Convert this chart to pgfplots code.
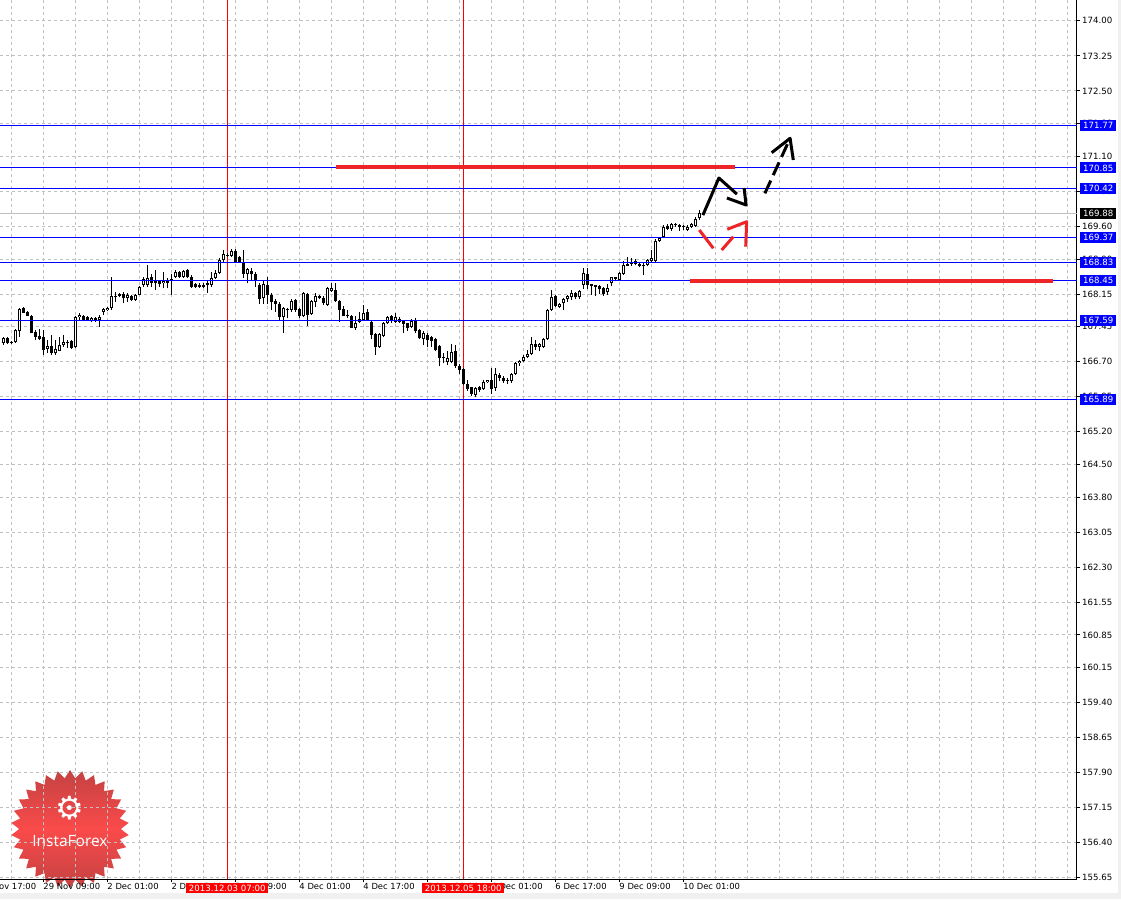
\documentclass[border=0pt]{standalone}
\usepackage{pgfplots}
\pgfplotsset{compat=1.18}
\usepackage{pgfplotstable}
\usepackage{fontspec}
\setmainfont{DejaVu Sans}
\newfontfamily\logofont{Open Sans}
\usetikzlibrary{shapes.geometric}
\definecolor{gridc}{RGB}{192,192,192}
\definecolor{lvlblue}{RGB}{0,0,255}
\definecolor{drawred}{RGB}{238,36,40}
\definecolor{logotop}{RGB}{196,66,66}
\definecolor{logomid}{RGB}{250,74,74}
\definecolor{chrome}{RGB}{240,240,240}
\definecolor{pricegray}{RGB}{190,190,190}

\pgfplotstableread{
x o h l c
0 167.10 167.24 167.06 167.20
1 167.20 167.24 167.08 167.10
2 167.13 167.15 167.07 167.10
3 167.13 167.40 167.10 167.37
4 167.35 167.85 167.24 167.83
5 167.85 167.88 167.74 167.75
6 167.77 167.79 167.67 167.69
7 167.68 167.70 167.31 167.32
8 167.34 167.38 167.17 167.24
9 167.25 167.40 167.17 167.18
10 167.24 167.37 166.85 166.95
11 166.98 167.17 166.88 167.04
12 167.04 167.27 166.85 166.88
13 166.88 167.17 166.85 166.97
14 166.94 167.24 166.92 167.05
15 167.05 167.27 167.02 167.12
16 167.13 167.17 166.99 167.10
17 167.15 167.17 166.97 166.99
18 167.01 167.68 166.99 167.65
19 167.65 167.75 167.60 167.70
20 167.68 167.70 167.58 167.60
21 167.65 167.67 167.57 167.60
22 167.58 167.66 167.55 167.63
23 167.63 167.65 167.56 167.60
24 167.60 167.70 167.44 167.65
25 167.77 167.85 167.70 167.82
26 167.80 167.87 167.78 167.85
27 167.85 168.52 167.81 168.11
28 168.11 168.20 167.99 168.08
29 168.11 168.18 168.08 168.15
30 168.15 168.20 167.95 168.06
31 168.06 168.17 167.99 168.13
32 168.11 168.14 168.00 168.02
33 168.02 168.16 168.00 168.13
34 168.13 168.32 168.12 168.31
35 168.34 168.52 168.31 168.47
36 168.34 168.77 168.31 168.49
37 168.51 168.59 168.31 168.39
38 168.42 168.67 168.24 168.38
39 168.42 168.45 168.31 168.36
40 168.38 168.63 168.27 168.44
41 168.42 168.49 168.27 168.38
42 168.44 168.59 168.13 168.47
43 168.51 168.67 168.49 168.62
44 168.62 168.65 168.50 168.52
45 168.52 168.67 168.50 168.64
46 168.67 168.69 168.49 168.51
47 168.52 168.55 168.29 168.31
48 168.36 168.38 168.29 168.31
49 168.31 168.38 168.29 168.35
50 168.35 168.38 168.28 168.31
51 168.34 168.45 168.18 168.38
52 168.34 168.63 168.31 168.49
53 168.49 168.67 168.47 168.61
54 168.61 168.92 168.59 168.87
55 168.87 169.09 168.84 169.00
56 168.97 169.02 168.95 168.99
57 168.97 169.11 168.95 169.07
58 169.07 169.11 168.82 168.84
59 168.95 168.97 168.82 168.84
60 168.84 169.10 168.49 168.59
61 168.59 168.70 168.38 168.68
62 168.65 168.70 168.45 168.57
63 168.59 168.63 168.31 168.44
64 168.34 168.39 167.94 168.04
65 168.06 168.42 167.94 168.36
66 168.34 168.51 167.94 168.13
67 168.13 168.17 167.81 167.97
68 168.00 168.04 167.77 167.93
69 167.93 167.99 167.57 167.65
70 167.65 167.88 167.31 167.85
71 167.83 167.85 167.63 167.80
72 167.81 168.04 167.77 168.00
73 168.02 168.05 167.77 167.81
74 167.82 167.85 167.63 167.68
75 167.67 168.20 167.65 168.18
76 168.15 168.18 167.47 167.70
77 167.72 168.02 167.70 168.00
78 167.99 168.17 167.88 168.11
79 168.11 168.13 168.04 168.06
80 168.07 168.10 167.92 167.95
81 167.92 168.31 167.90 168.29
82 168.22 168.38 168.20 168.27
83 168.24 168.38 167.99 168.00
84 168.00 168.02 167.56 167.81
85 167.84 167.89 167.67 167.68
86 167.70 167.81 167.63 167.67
87 167.68 167.70 167.42 167.43
88 167.42 167.67 167.38 167.54
89 167.55 167.77 167.52 167.62
90 167.60 167.92 167.58 167.75
91 167.77 167.84 167.57 167.60
92 167.55 167.57 167.18 167.27
93 167.30 167.31 166.85 167.01
94 167.01 167.31 166.99 167.29
95 167.26 167.56 167.24 167.52
96 167.52 167.68 167.50 167.65
97 167.67 167.70 167.54 167.60
98 167.56 167.74 167.54 167.65
99 167.62 167.65 167.52 167.56
100 167.57 167.60 167.31 167.51
101 167.52 167.54 167.35 167.42
102 167.44 167.61 167.42 167.57
103 167.60 167.64 167.32 167.35
104 167.37 167.40 167.18 167.20
105 167.19 167.35 167.06 167.31
106 167.27 167.31 167.01 167.17
107 167.24 167.25 167.02 167.15
108 167.18 167.20 166.92 166.95
109 167.04 167.06 166.60 166.77
110 166.80 166.88 166.67 166.77
111 166.69 166.92 166.63 166.77
112 166.70 167.08 166.67 166.90
113 166.93 167.06 166.56 166.60
114 166.61 166.65 166.43 166.52
115 166.55 166.56 166.20 166.23
116 166.23 166.32 166.08 166.12
117 166.15 166.17 165.97 166.01
118 165.99 166.17 165.94 166.13
119 166.15 166.18 166.06 166.10
120 166.11 166.30 166.10 166.26
121 166.26 166.32 166.24 166.31
122 166.31 166.56 166.01 166.11
123 166.13 166.56 166.08 166.43
124 166.42 166.45 166.28 166.35
125 166.36 166.40 166.25 166.28
126 166.31 166.35 166.22 166.28
127 166.28 166.45 166.25 166.44
128 166.44 166.70 166.42 166.68
129 166.67 166.74 166.60 166.72
130 166.72 166.84 166.70 166.81
131 166.81 166.95 166.78 166.87
132 166.87 167.22 166.85 167.08
133 167.08 167.17 166.95 167.02
134 167.02 167.10 166.92 167.08
135 167.02 167.20 166.99 167.18
136 167.18 167.82 167.17 167.81
137 167.81 168.24 167.79 168.08
138 168.10 168.13 167.87 167.90
139 167.88 167.96 167.86 167.94
140 167.95 168.06 167.80 168.04
141 168.04 168.13 167.99 168.11
142 168.08 168.24 168.02 168.17
143 168.18 168.20 168.04 168.08
144 168.08 168.24 168.04 168.22
145 168.35 168.70 168.25 168.60
146 168.58 168.70 168.25 168.35
147 168.36 168.37 168.13 168.32
148 168.34 168.35 168.11 168.31
149 168.32 168.35 168.15 168.25
150 168.29 168.31 168.11 168.15
151 168.20 168.37 168.13 168.27
152 168.38 168.52 168.32 168.51
153 168.48 168.52 168.45 168.51
154 168.45 168.63 168.44 168.61
155 168.58 168.85 168.56 168.77
156 168.79 168.95 168.74 168.76
157 168.83 168.92 168.74 168.79
158 168.85 168.89 168.77 168.80
159 168.79 168.81 168.72 168.76
160 168.77 168.81 168.56 168.75
161 168.77 168.89 168.74 168.87
162 168.85 169.09 168.82 168.92
163 168.85 169.32 168.82 169.29
164 169.29 169.38 169.27 169.34
165 169.38 169.63 169.34 169.59
166 169.61 169.65 169.52 169.54
167 169.54 169.67 169.51 169.65
168 169.65 169.68 169.59 169.62
169 169.62 169.65 169.51 169.59
170 169.61 169.63 169.52 169.58
171 169.52 169.63 169.50 169.59
172 169.58 169.68 169.56 169.65
173 169.61 169.79 169.59 169.76
174 169.77 169.94 169.74 169.88
}\candles

\tikzset{
  lvl/.style={anchor=west, xshift=3pt, fill=lvlblue, text=white, minimum width=36pt, minimum height=11pt, inner sep=0pt, font=\fontsize{8.6}{9}\selectfont},
  dlab/.style={anchor=north, yshift=-4pt, fill=red, text=white, inner xsep=2.5pt, inner ysep=1.5pt, font=\fontsize{8.6}{9}\selectfont}
}

\begin{document}
\begin{tikzpicture}
\useasboundingbox (0pt,-20pt) rectangle (1121pt,879pt);
\fill[chrome] (0pt,-20pt) rectangle (1121pt,879pt);
\fill[white] (0pt,-14pt) rectangle (1118pt,879pt);
\node[star, star points=30, star point ratio=1.16, minimum size=118pt, inner sep=0pt,
      top color=logotop, bottom color=logotop, middle color=logomid, draw=none] at (70pt,50pt) {};
\begin{axis}[
  at={(0pt,0pt)}, anchor=south west,
  scale only axis, width=1077pt, height=879pt,
  xmin=-0.825, xmax=268.425, ymin=155.624, ymax=174.447,
  axis x line=bottom, axis y line=right,
  axis line style={-, line width=1pt, black},
  clip mode=individual,
  xtick={10,26,42,58,74,90,106,122,138,154,170},
  xticklabels={29 Nov 09:00,2 Dec 01:00,2 Dec 17:00,3 Dec 09:00,4 Dec 01:00,4 Dec 17:00,5 Dec 09:00,6 Dec 01:00,6 Dec 17:00,9 Dec 09:00,10 Dec 01:00},
  minor xtick={2,18,34,50,66,82,98,114,130,146,162,178,186,194,202,210,218,226,234,242,250,258,266},
  ytick={174.00,173.25,172.50,171.80,171.10,170.35,169.60,168.90,168.15,167.45,166.70,165.95,165.20,164.50,163.80,163.05,162.30,161.55,160.85,160.15,159.40,158.65,157.90,157.15,156.40,155.65},
  yticklabels={174.00,173.25,172.50,171.80,171.10,170.35,169.60,168.90,168.15,167.45,166.70,165.95,165.20,164.50,163.80,163.05,162.30,161.55,160.85,160.15,159.40,158.65,157.90,157.15,156.40,155.65},
  tick align=outside, major tick length=3pt, minor tick length=0pt,
  tick style={black, line width=1pt},
  xmajorgrids=true, xminorgrids=true, ymajorgrids=true,
  major grid style={gridc, dash pattern=on 3pt off 3pt, line width=1pt},
  minor grid style={gridc, dash pattern=on 3pt off 3pt, line width=1pt},
  xticklabel style={anchor=north west, inner sep=0pt, xshift=0pt, yshift=-1pt, font=\fontsize{8.4}{9}\selectfont},
  yticklabel style={anchor=west, inner sep=0pt, xshift=2pt, font=\fontsize{8.6}{9}\selectfont},
]
% current price line
\addplot[pricegray, line width=1pt] coordinates {(-0.825,169.88) (268.425,169.88)};
% vertical marker lines
\addplot[red, line width=1pt] coordinates {(56,155.624) (56,174.447)};
\addplot[red, line width=1pt] coordinates {(115,155.624) (115,174.447)};
% candles: wicks
\addplot[draw=none, mark=none, error bars/.cd, y dir=plus, y explicit, error mark=none,
  error bar style={draw=black, line width=1pt, solid}]
  table[x=x, y=l, y error plus expr={\thisrow{h}-\thisrow{l}}] {\candles};
% bodies
\addplot[draw=none, mark=none, error bars/.cd, y dir=plus, y explicit, error mark=none,
  error bar style={draw=black, line width=3pt, solid}]
  table[x=x, y expr={min(\thisrow{o},\thisrow{c})}, y error plus expr={max(abs(\thisrow{c}-\thisrow{o}),0.022)}] {\candles};
\addplot[draw=none, mark=none, error bars/.cd, y dir=plus, y explicit, error mark=none,
  error bar style={draw=white, line width=1pt, solid}]
  table[x=x, y expr={\thisrow{o}+0.0214}, y error plus expr={max(\thisrow{c}-\thisrow{o}-0.0428,0)}] {\candles};
% level lines
\addplot[lvlblue, line width=1pt] coordinates {(-0.825,171.77) (268.425,171.77)};
\addplot[lvlblue, line width=1pt] coordinates {(-0.825,170.85) (268.425,170.85)};
\addplot[lvlblue, line width=1pt] coordinates {(-0.825,170.42) (268.425,170.42)};
\addplot[lvlblue, line width=1pt] coordinates {(-0.825,169.37) (268.425,169.37)};
\addplot[lvlblue, line width=1pt] coordinates {(-0.825,168.83) (268.425,168.83)};
\addplot[lvlblue, line width=1pt] coordinates {(-0.825,168.45) (268.425,168.45)};
\addplot[lvlblue, line width=1pt] coordinates {(-0.825,167.59) (268.425,167.59)};
\addplot[lvlblue, line width=1pt] coordinates {(-0.825,165.89) (268.425,165.89)};
% drawn red levels
\addplot[drawred, line width=4pt] coordinates {(83.2,170.87) (182.9,170.87)};
\addplot[drawred, line width=4pt] coordinates {(171.7,168.43) (262.4,168.43)};
% black solid arrow
\addplot[black, line width=3pt, line join=round] coordinates {(174.9,169.84) (178.9,170.635) (183.4,170.29)};
\addplot[black, line width=3pt, line join=round] coordinates {(180.9,170.207) (185.7,170.057) (185.2,170.42)};
% black dashed arrow
\addplot[black, line width=3pt, dash pattern=on 14pt off 6pt] coordinates {(190.4,170.307) (196.7,171.485)};
\addplot[black, line width=3pt, line join=round] coordinates {(192.1,171.177) (196.7,171.485) (197.5,171.02)};
% red arrow
\addplot[drawred, line width=3pt] coordinates {(174.0,169.522) (177.5,169.13)};
\addplot[drawred, line width=3pt] coordinates {(179.6,169.093) (182.5,169.378)};
\addplot[drawred, line width=3pt, line join=round] coordinates {(181.0,169.537) (185.85,169.699) (185.6,169.164)};
% price labels
\node[lvl] at (axis cs:268.425,171.77) {171.77};
\node[lvl] at (axis cs:268.425,170.85) {170.85};
\node[lvl] at (axis cs:268.425,170.42) {170.42};
\node[lvl, fill=black] at (axis cs:268.425,169.88) {169.88};
\node[lvl] at (axis cs:268.425,169.37) {169.37};
\node[lvl] at (axis cs:268.425,168.83) {168.83};
\node[lvl] at (axis cs:268.425,168.45) {168.45};
\node[lvl] at (axis cs:268.425,167.59) {167.59};
\node[lvl] at (axis cs:268.425,165.89) {165.89};
% time labels
\node[anchor=north west, inner sep=0pt, yshift=-4pt, font=\fontsize{8.4}{9}\selectfont] at (axis cs:-6,155.624) {28 Nov 17:00};
\node[dlab] at (axis cs:56,155.624) {2013.12.03 07:00};
\node[dlab] at (axis cs:115,155.624) {2013.12.05 18:00};
\end{axis}
\node[text=white, font=\fontsize{32}{32}\selectfont] at (70pt,71pt) {⚙};
\node[text=white, font=\logofont\fontsize{15.5}{16}\selectfont] at (70pt,38pt) {InstaForex};
\end{tikzpicture}
\end{document}
